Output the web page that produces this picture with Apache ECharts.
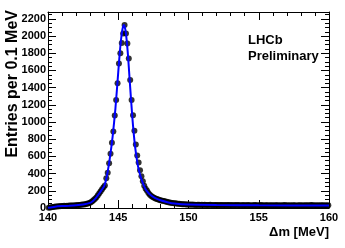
<!DOCTYPE html>
<html><head><meta charset="utf-8">
<script src="https://cdn.jsdelivr.net/npm/echarts@6/dist/echarts.min.js"></script>
<style>html,body{margin:0;padding:0;background:#fff}#c{width:345px;height:248px}</style>
</head><body><div id="c"></div>
<script>
// Histogram: entries per 0.1 MeV bin, 140.0 - 160.0 MeV (bin centres 140.05 ... 159.95)
const binStart = 140.0;
const binWidth = 0.1;
const counts = [
  3, 7, 10, 13, 15, 16, 18, 19, 21, 22,
  23, 25, 24, 27, 26, 28, 29, 28, 30, 31,
  33, 34, 36, 37, 40, 42, 45, 49, 53, 58,
  66, 78, 92, 108, 126, 148, 172, 196, 218, 240,
  262, 345, 410, 520, 630, 760, 890, 1075, 1255, 1450,
  1680, 1800, 1920, 2030, 2130, 2030, 1915, 1740, 1490, 1255,
  1080, 900, 740, 610, 530, 440, 370, 310, 260, 225,
  200, 175, 155, 140, 128, 118, 110, 104, 98, 93,
  88, 84, 80, 76, 72, 68, 65, 62, 59, 56,
  54, 52, 50, 48, 46, 45, 44, 43, 42, 41,
  41, 38, 40, 37, 39, 36, 38, 37, 35, 37,
  36, 38, 35, 36, 34, 37, 35, 33, 36, 34,
  35, 33, 36, 34, 32, 35, 33, 34, 36, 32,
  34, 33, 31, 35, 32, 34, 33, 30, 34, 32,
  33, 31, 34, 32, 30, 33, 31, 34, 32, 30,
  32, 34, 31, 30, 33, 31, 32, 29, 33, 31,
  30, 32, 31, 33, 29, 31, 30, 32, 34, 30,
  31, 29, 32, 30, 31, 33, 29, 30, 32, 31,
  30, 32, 29, 31, 33, 30, 32, 34, 31, 29,
  31, 30, 32, 29, 31, 33, 30, 31, 29, 32
];
// Fit curve
const fitX = [140.0, 140.5, 141, 141.5, 142, 142.5, 143, 143.2, 143.4, 143.6, 143.8, 144.0, 144.2, 144.4, 144.6, 144.8, 145.0, 145.1, 145.2, 145.3, 145.4, 145.5, 145.6, 145.7, 145.8, 146.0, 146.2, 146.4, 146.6, 146.8, 147.0, 147.3, 147.6, 148.0, 148.5, 149, 150, 152, 155, 160];
const fitY = [2, 15, 22, 27, 33, 42, 60, 82, 115, 158, 205, 255, 380, 580, 830, 1160, 1580, 1790, 1960, 2080, 2130, 2080, 1950, 1760, 1520, 1060, 710, 490, 360, 270, 205, 150, 118, 90, 68, 52, 40, 35, 32, 29];

const xMin = 140, xMax = 160, xInterval = 5;
const yMin = 0, yMax = 2280, yInterval = 200;
const xTitle = 'Δm [MeV]';
const yTitle = 'Entries per 0.1 MeV';
const labelLines = ['LHCb', 'Preliminary'];

const pts = counts.map((v, i) => [+(binStart + binWidth * (i + 0.5)).toFixed(2), v]);
const fit = fitX.map((x, i) => [x, fitY[i]]);

const FONT = 'Liberation Sans';
const lblStyle = {fontFamily: FONT, fontWeight: 'bold', fontSize: 11, color: '#000'};
function mkX(pos, show) {
  return {
    type: 'value', position: pos, min: xMin, max: xMax, interval: xInterval,
    axisLine: {show: true, onZero: false, lineStyle: {color: '#000', width: 1}},
    axisTick: {show: true, inside: true, length: 8, lineStyle: {color: '#000'}},
    minorTick: {show: true, splitNumber: 5, length: 4, lineStyle: {color: '#000'}},
    splitLine: {show: false},
    axisLabel: {show: show, margin: 4, ...lblStyle, showMinLabel: true, showMaxLabel: true},
    name: show ? xTitle : '', nameLocation: 'end', nameGap: 0,
    nameTextStyle: {fontFamily: FONT, fontWeight: 'bold', fontSize: 13, color: '#000',
      align: 'right', verticalAlign: 'top', padding: [18, 0, 0, 0]}
  };
}
function mkY(pos, show) {
  return {
    type: 'value', position: pos, min: yMin, max: yMax, interval: yInterval,
    axisLine: {show: true, onZero: false, lineStyle: {color: '#000', width: 1}},
    axisTick: {show: true, inside: true, length: 8, lineStyle: {color: '#000'}},
    minorTick: {show: true, splitNumber: 4, length: 4, lineStyle: {color: '#000'}},
    splitLine: {show: false},
    axisLabel: {show: show, margin: 2, ...lblStyle,
      formatter: v => (v % yInterval === 0 ? String(v) : '')}
  };
}

const chart = echarts.init(document.getElementById('c'), null, {renderer: 'canvas'});
chart.setOption({
  animation: false,
  backgroundColor: '#fff',
  grid: {left: 48, right: 16, top: 12, bottom: 40},
  xAxis: [mkX('bottom', true), mkX('top', false)],
  yAxis: [mkY('left', true), mkY('right', false)],
  graphic: [
    {type: 'text', left: 5, top: 10, rotation: Math.PI / 2, origin: [0, 0],
     style: {text: yTitle, font: 'bold 16px "Liberation Sans"', fill: '#000'}},
    {type: 'text', left: 248, top: 32,
     style: {text: labelLines.join('\n'), font: 'bold 13px "Liberation Sans"', fill: '#000', lineHeight: 16}}
  ],
  series: [
    {type: 'scatter', xAxisIndex: 0, yAxisIndex: 0, data: pts, symbol: 'circle', symbolSize: 6,
     itemStyle: {color: '#000'}, z: 2},
    {type: 'line', xAxisIndex: 0, yAxisIndex: 0, data: fit, showSymbol: false, smooth: 0.2,
     lineStyle: {color: '#0000ff', width: 2}, z: 3}
  ]
});
</script></body></html>
